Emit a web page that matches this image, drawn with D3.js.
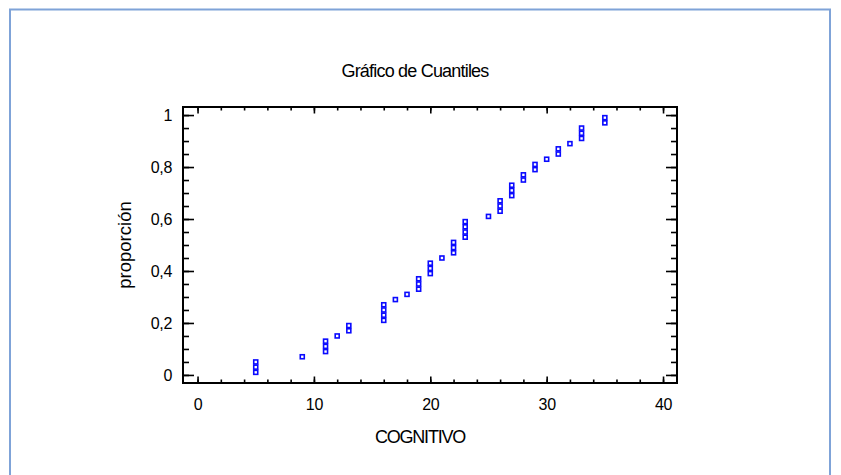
<!DOCTYPE html>
<html>
<head>
<meta charset="utf-8">
<script src="https://cdn.jsdelivr.net/npm/d3@7/dist/d3.min.js"></script>
<style>
  html, body { margin: 0; padding: 0; background: #fff; }
  svg { display: block; }
  text { font-family: "Liberation Sans", Arial, sans-serif; fill: #000; }
</style>
</head>
<body>
<svg id="chart" width="841" height="475"></svg>
<script>
// ---- data ----
const title = "Gráfico de Cuantiles";
const xLabel = "COGNITIVO";
const yLabel = "proporción";
const cognitivo = [5,5,5,9,11,11,11,12,13,13,16,16,16,16,17,18,19,19,19,20,20,20,21,22,22,22,23,23,23,23,25,26,26,26,27,27,27,28,28,29,29,30,31,31,32,33,33,33,35,35];
const proporcion = [0.01,0.03,0.05,0.07,0.09,0.11,0.13,0.15,0.17,0.19,0.21,0.23,0.25,0.27,0.29,0.31,0.33,0.35,0.37,0.39,0.41,0.43,0.45,0.47,0.49,0.51,0.53,0.55,0.57,0.59,0.61,0.63,0.65,0.67,0.69,0.71,0.73,0.75,0.77,0.79,0.81,0.83,0.85,0.87,0.89,0.91,0.93,0.95,0.97,0.99];
const xTicks = [0,10,20,30,40];
const xMinorTicks = [0,2,4,6,8,10,12,14,16,18,20,22,24,26,28,30,32,34,36,38,40];
const yTicks = [0,0.2,0.4,0.6,0.8,1];
const yMinorTicks = [0,0.05,0.1,0.15,0.2,0.25,0.3,0.35,0.4,0.45,0.5,0.55,0.6,0.65,0.7,0.75,0.8,0.85,0.9,0.95,1];

const svg = d3.select("#chart");
const L = 183, R = 677, T = 107, B = 383;

// outer frame
svg.append("rect").attr("x", 10).attr("y", 9.5).attr("width", 820).attr("height", 490)
  .attr("fill", "none").attr("stroke", "#7fa3d8").attr("stroke-width", 2);

const x = d3.scaleLinear().domain([-1.25, 41.2]).range([L, R]);
const y = d3.scaleLinear().domain([-0.031, 1.031]).range([B, T]);

const fmt = d => String(d).replace(".", ",");

function styleAxis(g) {
  g.selectAll("path").remove();
  g.selectAll("line").attr("stroke", "#000").attr("stroke-width", 1.6);
  g.selectAll("text").style("font-size", "16px").style("letter-spacing", "-0.3px");
}

// minor ticks
svg.append("g").attr("transform", `translate(0,${B})`)
  .call(d3.axisBottom(x).tickValues(xMinorTicks).tickSize(-3.5).tickFormat(""))
  .call(styleAxis);
svg.append("g").attr("transform", `translate(0,${T})`)
  .call(d3.axisTop(x).tickValues(xMinorTicks).tickSize(-3.5).tickFormat(""))
  .call(styleAxis);
svg.append("g").attr("transform", `translate(${L},0)`)
  .call(d3.axisLeft(y).tickValues(yMinorTicks).tickSize(-6).tickFormat(""))
  .call(styleAxis);
svg.append("g").attr("transform", `translate(${R},0)`)
  .call(d3.axisRight(y).tickValues(yMinorTicks).tickSize(-6).tickFormat(""))
  .call(styleAxis);

// major ticks
svg.append("g").attr("transform", `translate(0,${B})`)
  .call(d3.axisBottom(x).tickValues(xTicks).tickSize(-6.5).tickPadding(16).tickFormat(fmt))
  .call(styleAxis);
svg.append("g").attr("transform", `translate(0,${T})`)
  .call(d3.axisTop(x).tickValues(xTicks).tickSize(-6.5).tickFormat(""))
  .call(styleAxis);
svg.append("g").attr("transform", `translate(${L},0)`)
  .call(d3.axisLeft(y).tickValues(yTicks).tickSize(-11).tickPadding(11).tickFormat(fmt))
  .call(styleAxis);
svg.append("g").attr("transform", `translate(${R},0)`)
  .call(d3.axisRight(y).tickValues(yTicks).tickSize(-11).tickFormat(""))
  .call(styleAxis);

// plot frame
svg.append("rect").attr("x", L).attr("y", T).attr("width", R - L).attr("height", B - T)
  .attr("fill", "none").attr("stroke", "#000").attr("stroke-width", 2);

// points
const pts = cognitivo.map((c, i) => ({c, p: proporcion[i]}));
svg.append("g").selectAll("rect").data(pts).join("rect")
  .attr("x", d => x(d.c) - 2)
  .attr("y", d => y(d.p) - 2)
  .attr("width", 4).attr("height", 4)
  .attr("fill", "#fff").attr("stroke", "#0a0aff").attr("stroke-width", 1.6);

// title and labels
svg.append("text").attr("x", 415).attr("y", 77).attr("text-anchor", "middle")
  .style("font-size", "18px").style("letter-spacing", "-0.8px").text(title);
svg.append("text").attr("x", 420).attr("y", 443).attr("text-anchor", "middle")
  .style("font-size", "18px").style("letter-spacing", "-1.2px").text(xLabel);
svg.append("text").attr("transform", `translate(131,${(T + B) / 2}) rotate(-90)`)
  .attr("text-anchor", "middle")
  .style("font-size", "18.5px").text(yLabel);
</script>
</body>
</html>
